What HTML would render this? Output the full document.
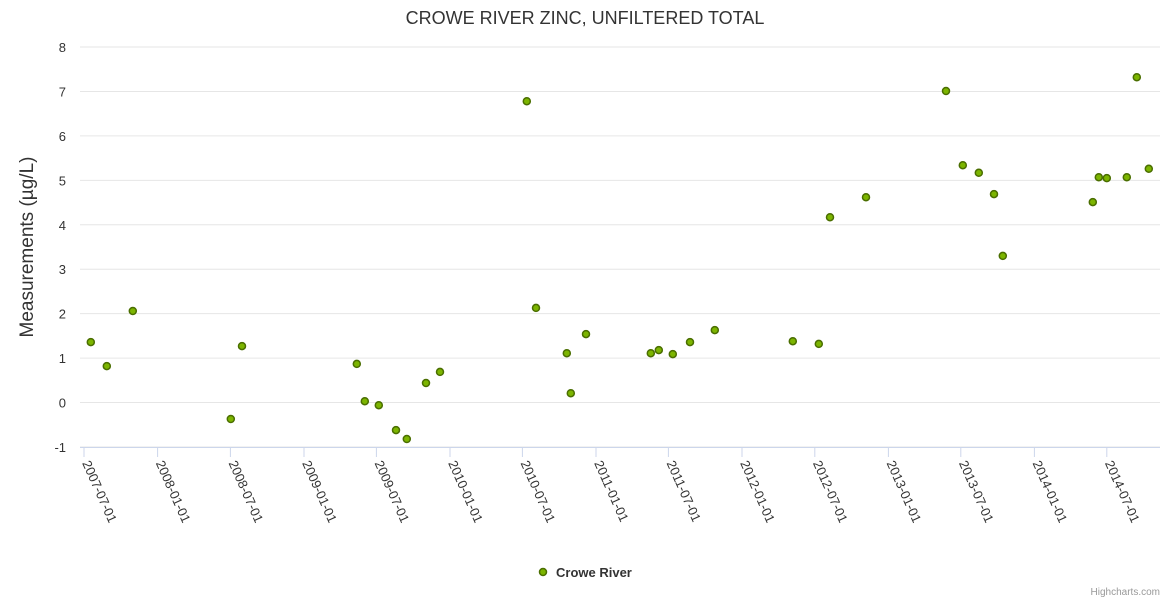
<!DOCTYPE html>
<html><head><meta charset="utf-8"><style>
body{margin:0;background:#fff;font-family:"Liberation Sans",sans-serif}
</style></head><body>
<svg id="c" width="1170" height="600" xmlns="http://www.w3.org/2000/svg"></svg>
<script>
const dates=["2007-07-18","2007-08-27","2007-10-31","2008-07-02","2008-07-30","2009-05-13","2009-06-02","2009-07-07","2009-08-19","2009-09-15","2009-11-02","2009-12-07","2010-07-12","2010-08-04","2010-10-20","2010-10-30","2010-12-07","2011-05-18","2011-06-07","2011-07-12","2011-08-24","2011-10-25","2012-05-07","2012-07-11","2012-08-08","2012-11-06","2013-05-25","2013-07-06","2013-08-15","2013-09-22","2013-10-14","2014-05-27","2014-06-11","2014-07-01","2014-08-20","2014-09-14","2014-10-14"];
const values=[1.36,0.82,2.06,-0.37,1.27,0.87,0.03,-0.06,-0.62,-0.82,0.44,0.69,6.78,2.13,1.11,0.21,1.54,1.11,1.18,1.09,1.36,1.63,1.38,1.32,4.17,4.62,7.01,5.34,5.17,4.69,3.30,4.51,5.07,5.05,5.07,7.32,5.26];
const xTicks=["2007-07-01","2008-01-01","2008-07-01","2009-01-01","2009-07-01","2010-01-01","2010-07-01","2011-01-01","2011-07-01","2012-01-01","2012-07-01","2013-01-01","2013-07-01","2014-01-01","2014-07-01"];
const yTicks=[-1,0,1,2,3,4,5,6,7,8];
const NS="http://www.w3.org/2000/svg",svg=document.getElementById('c');
const L=80,R=1160,T=47,B=447;
const t0=Date.UTC(2007,5,21),t1=Date.UTC(2014,10,11);
const ms=s=>{const p=s.split('-');return Date.UTC(+p[0],+p[1]-1,+p[2]);};
const xs=s=>L+(ms(s)-t0)/(t1-t0)*(R-L);
const ys=v=>B-(v+1)/9*(B-T);
function el(tag,a,txt){const e=document.createElementNS(NS,tag);for(const k in a)e.setAttribute(k,a[k]);if(txt!=null)e.textContent=txt;svg.appendChild(e);return e;}
let e=el('text',{x:585,y:24,'text-anchor':'middle','font-size':18,fill:'#333'},'CROWE RIVER ZINC, UNFILTERED TOTAL');


yTicks.forEach(v=>{
 const g=el('line',{x1:L,x2:R,y1:ys(v),y2:ys(v),stroke:'#e6e6e6'});
 
 
 const t=el('text',{x:66,y:ys(v)+5,'text-anchor':'end','font-size':13,fill:'#333'},String(v));
 
 
});
e=el('line',{x1:L,x2:R,y1:B+0.5,y2:B+0.5,stroke:'#ccd6eb'});


xTicks.forEach(s=>{
 const x=xs(s);
 const k=el('line',{x1:x,x2:x,y1:B,y2:B+10,stroke:'#ccd6eb'});
 
 
 const t=el('text',{x:x-2,y:B+16,'font-size':13,fill:'#333',transform:`rotate(66 ${x-2} ${B+16})`},s);
 
 
});
e=el('text',{x:33,y:247,'text-anchor':'middle','font-size':19,fill:'#333',transform:'rotate(-90 33 247)'},'Measurements (µg/L)');


dates.forEach((d,i)=>{
 const c=el('circle',{cx:xs(d),cy:ys(values[i]),r:3.5,fill:'#7cb500',stroke:'#4a6e00','stroke-width':1.5});
 
 
});
e=el('circle',{cx:543,cy:572,r:3.5,fill:'#7cb500',stroke:'#4a6e00','stroke-width':1.5});


e=el('text',{x:556,y:577,'font-size':13,'font-weight':'bold',fill:'#333'},'Crowe River');


e=el('text',{x:1160,y:595,'text-anchor':'end','font-size':10,fill:'#999'},'Highcharts.com');


</script>
</body></html>
